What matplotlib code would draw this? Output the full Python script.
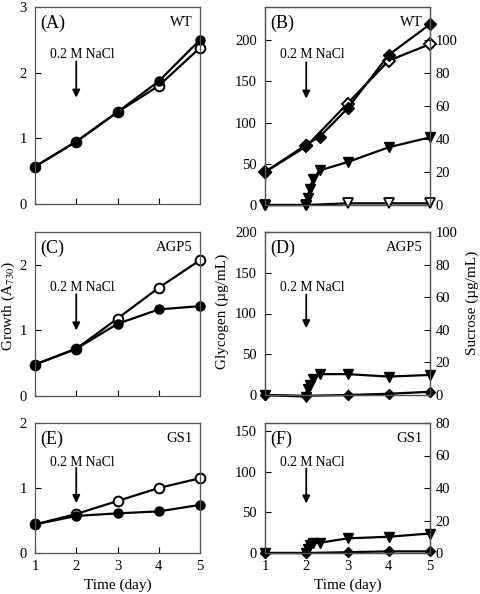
import matplotlib

matplotlib.use("Agg")
import matplotlib.pyplot as plt

plt.rcParams["font.family"] = ["Liberation Serif", "DejaVu Serif"]
plt.rcParams["mathtext.fontset"] = "stix"

# growth (A730), days 1-5
days = [1, 2, 3, 4, 5]
wt_growth_open = [0.57, 0.95, 1.40, 1.80, 2.38]
wt_growth_filled = [0.57, 0.95, 1.40, 1.87, 2.50]
agp_growth_open = [0.48, 0.72, 1.18, 1.65, 2.07]
agp_growth_filled = [0.48, 0.72, 1.10, 1.32, 1.37]
gs_growth_open = [0.44, 0.60, 0.80, 1.00, 1.15]
gs_growth_filled = [0.44, 0.57, 0.61, 0.64, 0.74]

# glycogen (ug/mL)
wt_gly_filled_days = [1, 2, 2.33, 3, 4, 5]
wt_gly_filled = [40, 73, 83, 117, 182, 219]
wt_gly_open = [40, 71, 123, 175, 195]
agp_gly = [0, -1, 0, 1.5, 4]
gs_gly = [0, 0, 1, 2, 2]

# sucrose (ug/mL), dense sampling right after NaCl addition
suc_days = [1, 2, 2.04, 2.08, 2.17, 2.33, 3, 4, 5]
wt_suc_filled = [0, 0, 4, 10, 16, 21, 26, 35, 41]
wt_suc_open = [0, 0, 1, 1, 1]
agp_suc = [0, -1, 3.5, 6, 10, 12.8, 12.8, 11.3, 12.3]
gs_suc = [0, 0, 2.5, 5, 6, 6.3, 9, 10, 12]

W, H = 480, 594
fig = plt.figure(figsize=(W / 100, H / 100), dpi=100)


def add_axes(x0, top, w, h):
    return fig.add_axes([x0 / W, 1 - (top + h) / H, w / W, h / H])


def style(ax, xlabels=False):
    ax.set_xlim(1, 5)
    ax.set_xticks(days)
    ax.tick_params(direction="in", labelsize=10.5, length=4, width=0.8,
                   pad=5, labelbottom=xlabels)
    ax.tick_params(axis="y", pad=6)
    for s in ax.spines.values():
        s.set_linewidth(0.9)
        s.set_color("#555555")


def tag(ax, letter, strain):
    ax.annotate(letter, xy=(0, 1), xycoords="axes fraction", xytext=(4, -12),
                textcoords="offset points", ha="left", va="center", fontsize=13)
    ax.annotate(strain, xy=(1, 1), xycoords="axes fraction", xytext=(-5, -11),
                textcoords="offset points", ha="right", va="center", fontsize=10.5)


def nacl(ax, y_text, y_tail, y_tip):
    ax.text(2.15, y_text, "0.2 M NaCl", ha="center", va="center", fontsize=9.8)
    ax.annotate("", xy=(2, y_tip), xytext=(2, y_tail),
                arrowprops=dict(arrowstyle="-|>", color="black", lw=1.3,
                                mutation_scale=11, shrinkA=0, shrinkB=0))


line_kw = dict(color="black", lw=1.6, clip_on=False)


def growth(ax, open_v, filled_v):
    ax.plot(days, open_v, marker="o", ms=7, mfc="white", mec="black", mew=1.4,
            **line_kw)
    ax.plot(days, filled_v, marker="o", ms=6.5, mfc="black", mec="black", **line_kw)


# left column
panels_left = [
    (7, 197, 3, [0, 1, 2, 3], wt_growth_open, wt_growth_filled, "(A)", "WT",
     (2.27, 2.17, 1.62)),
    (232, 164, 2.5, [0, 1, 2], agp_growth_open, agp_growth_filled, "(C)", "AGP5",
     (1.66, 1.55, 1.0)),
    (423, 130, 2, [0, 1, 2], gs_growth_open, gs_growth_filled, "(E)", "GS1",
     (1.40, 1.31, 0.77)),
]
for i, (top, h, ymax, yt, ov, fv, letter, strain, arrow) in enumerate(panels_left):
    ax = add_axes(35, top, 165, h)
    growth(ax, ov, fv)
    ax.set_ylim(0, ymax)
    ax.set_yticks(yt)
    style(ax, xlabels=(i == 2))
    tag(ax, letter, strain)
    nacl(ax, *arrow)

# right column: glycogen on left axis, sucrose on right axis
panels_right = [
    (7, 198, 240, [0, 50, 100, 150, 200], "(B)", "WT", (182, 173, 129)),
    (232, 163, 200, [0, 50, 100, 150, 200], "(D)", "AGP5", (132, 123, 82)),
    (423, 130, 160, [0, 50, 100, 150], "(F)", "GS1", (112, 104, 61)),
]
for i, (top, h, ymax, yt, letter, strain, arrow) in enumerate(panels_right):
    ax = add_axes(265, top, 165, h)
    ax2 = ax.twinx()
    if i == 0:
        ax.plot(days, wt_gly_open, marker="D", ms=6.5, mfc="white", mec="black",
                mew=1.4, **line_kw)
        ax.plot(wt_gly_filled_days, wt_gly_filled, marker="D", ms=6, mfc="black",
                **line_kw)
        ax2.plot(days, wt_suc_open, marker="v", ms=7, mfc="white", mec="black",
                 mew=1.3, **line_kw)
        ax2.plot(suc_days, wt_suc_filled, marker="v", ms=6.5, mfc="black",
                 **line_kw)
    elif i == 1:
        ax.plot(days, agp_gly, marker="D", ms=5.5, mfc="black", **line_kw)
        ax2.plot(suc_days, agp_suc, marker="v", ms=6.5, mfc="black", **line_kw)
    else:
        ax.plot(days, gs_gly, marker="D", ms=5.5, mfc="black", **line_kw)
        ax2.plot(suc_days, gs_suc, marker="v", ms=6.5, mfc="black", **line_kw)
    ax.set_ylim(0, ymax)
    ax.set_yticks(yt)
    ax2.set_ylim(0, ymax / 2)
    ax2.set_yticks(range(0, int(min(ymax / 2, 100)) + 1, 20))
    style(ax, xlabels=(i == 2))
    style(ax2)
    ax2.tick_params(axis="y", pad=4)
    tag(ax, letter, strain)
    nacl(ax, *arrow)

fig.text(8 / W, 1 - 306 / H, "Growth (A$_{730}$)", rotation=90, ha="center",
         va="center", fontsize=11)
fig.text(222 / W, 1 - 311 / H, "Glycogen (\u00b5g/mL)", rotation=90, ha="center",
         va="center", fontsize=11)
fig.text(472 / W, 1 - 303 / H, "Sucrose (\u00b5g/mL)", rotation=90, ha="center",
         va="center", fontsize=11)
fig.text(117.5 / W, 1 - 585 / H, "Time (day)", ha="center", va="center", fontsize=11)
fig.text(347.5 / W, 1 - 585 / H, "Time (day)", ha="center", va="center", fontsize=11)

fig.savefig("out.png", dpi=100)
